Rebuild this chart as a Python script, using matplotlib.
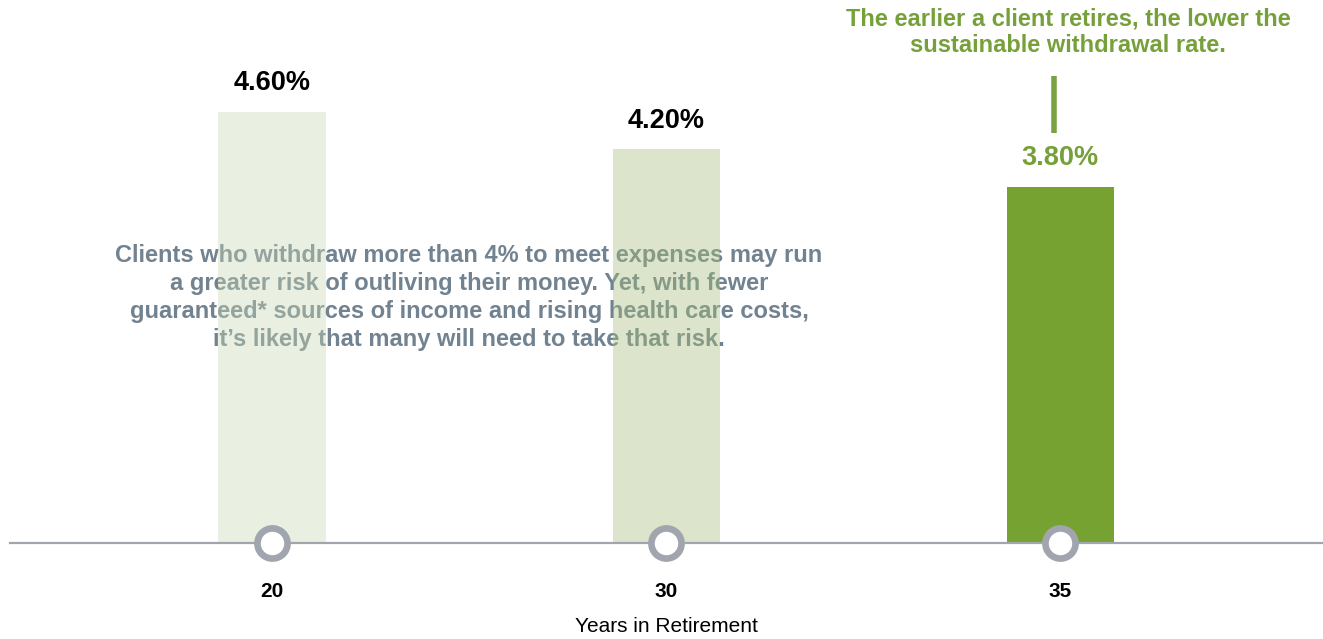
import matplotlib.pyplot as plt

plt.rcParams['font.family'] = ['Liberation Sans', 'DejaVu Sans']

# data
years = ["20", "30", "35"]
rates = [4.60, 4.20, 3.80]
# the light bars are see-through so the note behind them shows a little
bar_colors = ["#c8d7b466", "#a8c07d66", "#76a232ff"]
label_colors = ["black", "black", "#76a03a"]

GREEN = "#76a03a"
GRAY_TEXT = "#718290"
AXIS_GRAY = "#a1a5ad"

fig = plt.figure(figsize=(13.23, 6.39), dpi=100)
ax = fig.add_axes([10 / 1323, 96 / 639, 1 - 10 / 1323, 543 / 639])

xs = list(range(len(years)))

ax.text(0.50, 2.62,
        "Clients who withdraw more than 4% to meet expenses may run\n"
        "a greater risk of outliving their money. Yet, with fewer\n"
        "guaranteed* sources of income and rising health care costs,\n"
        "it\u2019s likely that many will need to take that risk.",
        ha="center", va="center", fontsize=17, fontweight="bold",
        color=GRAY_TEXT, linespacing=1.28, zorder=1)

ax.bar(xs, rates, width=0.272, color=bar_colors, zorder=2)

for x, r, c in zip(xs, rates, label_colors):
    ax.text(x, r + 0.17, f"{r:.2f}%", ha="center", va="bottom",
            fontsize=19.5, fontweight="bold", color=c, zorder=3)

# callout for the last bar
ax.plot([1.985, 1.985], [4.38, 4.98], color="#7aa245", lw=4, solid_capstyle="butt", zorder=3)
ax.text(2.02, 5.45, "The earlier a client retires, the lower the\nsustainable withdrawal rate.",
        ha="center", va="center", fontsize=17, fontweight="bold", color=GREEN,
        linespacing=1.2, zorder=3)

# circle markers on the axis
ax.scatter(xs, [0] * len(xs), s=470, facecolor="white", edgecolor=AXIS_GRAY,
           linewidth=4.8, zorder=4, clip_on=False)

ax.set_xlim(-0.665, 2.667)
ax.set_ylim(0, 5.795)

for side in ["top", "right", "left"]:
    ax.spines[side].set_visible(False)
ax.spines["bottom"].set_color(AXIS_GRAY)
ax.spines["bottom"].set_linewidth(1.6)
ax.set_yticks([])
ax.set_xticks(xs)
ax.set_xticklabels(years, fontsize=15, fontweight="bold")
ax.tick_params(axis="x", length=0, pad=28)
ax.set_xlabel("Years in Retirement", fontsize=15)
ax.xaxis.set_label_coords((666 - 10) / 1313, -74 / 543)

fig.savefig("out.png", dpi=100)
